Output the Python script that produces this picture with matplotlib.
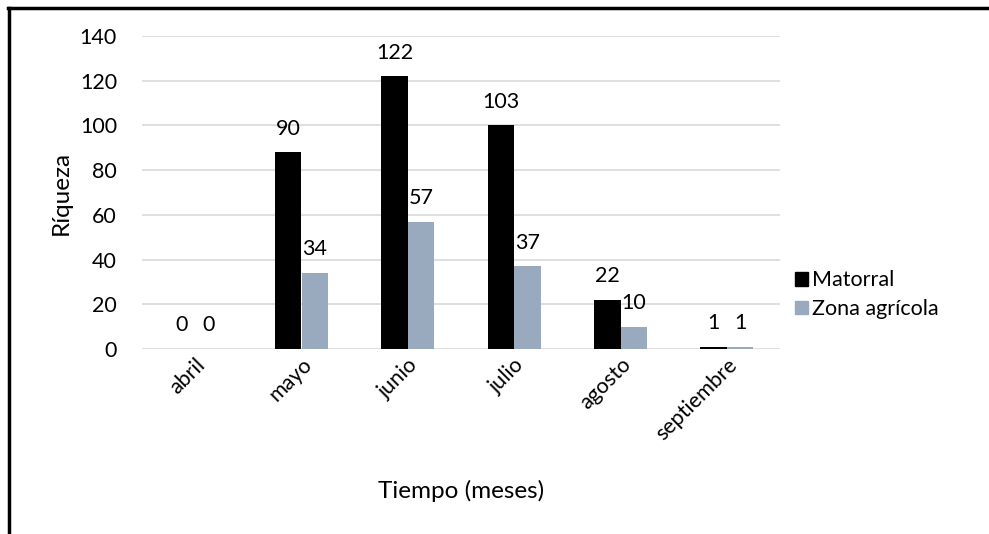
import numpy as np
import matplotlib.pyplot as plt
from matplotlib.patches import Patch
from matplotlib.lines import Line2D

plt.rcParams['font.family'] = ['Lato', 'DejaVu Sans']

meses = ['abril', 'mayo', 'junio', 'julio', 'agosto', 'septiembre']
matorral = [0, 88, 122, 100, 22, 1]
zona_agricola = [0, 34, 57, 37, 10, 1]
etiquetas_matorral = ['0', '90', '122', '103', '22', '1']
etiquetas_agricola = ['0', '34', '57', '37', '10', '1']

color_mat = '#000000'
color_agr = '#99a9be'

fig = plt.figure(figsize=(9.89, 5.34), dpi=100)
ax = fig.add_axes([142 / 989, 1 - 349 / 534, 638 / 989, 313 / 534])

x = np.arange(len(meses))
w = 0.25
b1 = ax.bar(x - w / 2, matorral, w, color=color_mat, zorder=3)
b2 = ax.bar(x + w / 2, zona_agricola, w, color=color_agr, zorder=3)

for barras, etiquetas in ((b1, etiquetas_matorral), (b2, etiquetas_agricola)):
    for rect, txt in zip(barras, etiquetas):
        ax.annotate(txt, (rect.get_x() + rect.get_width() / 2, rect.get_height()),
                    xytext=(0, 17), textcoords='offset points',
                    ha='center', va='center', fontsize=15.5)

ax.set_xlim(-0.5, len(meses) - 0.5)
ax.set_ylim(0, 140)
ax.set_yticks(range(0, 141, 20))
ax.yaxis.grid(True, color='#d9d9d9', linewidth=1.2, zorder=0)
ax.tick_params(axis='y', length=0, pad=18, labelsize=15.5)
ax.tick_params(axis='x', length=0, pad=4, labelsize=15.5)
ax.set_xticks(x)
ax.set_xticklabels(meses, rotation=45, ha='right', rotation_mode='anchor')
for s in ax.spines.values():
    s.set_visible(False)

ax.set_ylabel('Ríqueza', fontsize=17.5, labelpad=6)
ax.set_xlabel('Tiempo (meses)', fontsize=17.5, labelpad=26)

handles = [Patch(color=color_mat, label='Matorral'),
           Patch(color=color_agr, label='Zona agrícola')]
fig.legend(handles=handles, loc='upper left', bbox_to_anchor=(776 / 989, 1 - 251 / 534),
           frameon=False, fontsize=15.5, handlelength=0.6, handleheight=0.6,
           handletextpad=0.15, labelspacing=0.4)

# marco parcial (arriba e izquierda)
fig.add_artist(Line2D([8.5 / 989, 8.5 / 989], [0, 1 - 7.5 / 534], color='black', lw=2.5))
fig.add_artist(Line2D([7.5 / 989, 1], [1 - 7.5 / 534, 1 - 7.5 / 534], color='black', lw=2.5))

fig.savefig('out.png', dpi=100)
